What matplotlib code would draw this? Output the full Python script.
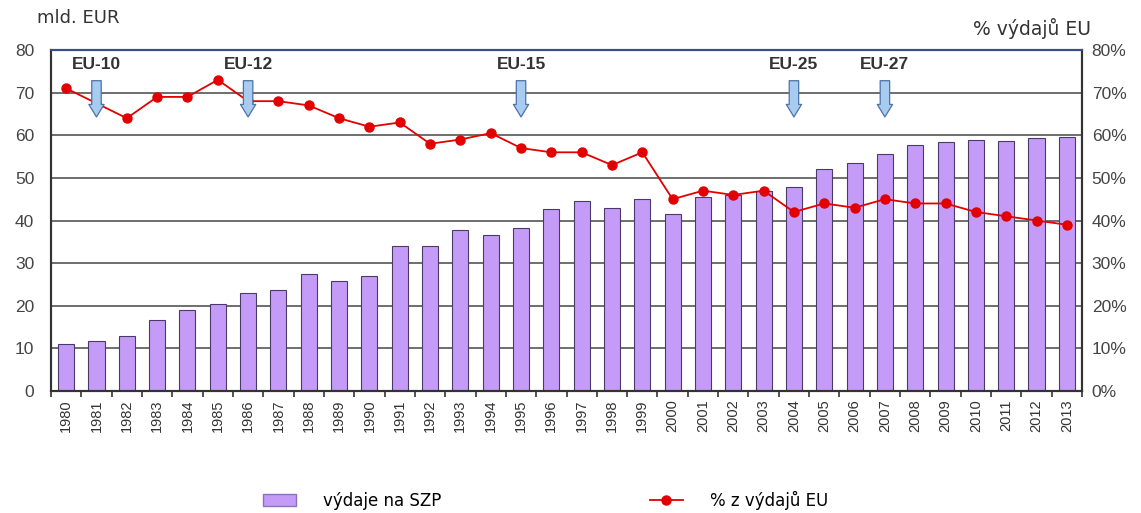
import matplotlib.pyplot as plt
import matplotlib.patches as mpatches
from matplotlib.lines import Line2D
import numpy as np

years = list(range(1980, 2014))
spending = [11.0, 11.7, 12.8, 16.6, 19.0, 20.5, 23.0, 23.7, 27.5, 25.7,
            27.0, 34.0, 34.0, 37.8, 36.6, 38.2, 42.7, 44.5, 43.0, 45.0,
            41.6, 45.5, 46.0, 47.0, 47.8, 52.0, 53.4, 55.5, 57.8, 58.5,
            58.8, 58.6, 59.3, 59.6]
share_pct = [71, 67.5, 64, 69, 69, 73, 68, 68, 67, 64,
             62, 63, 58, 59, 60.5, 57, 56, 56, 53, 56,
             45, 47, 46, 47, 42, 44, 43, 45, 44, 44,
             42, 41, 40, 39]
enlargements = ["EU-10", "EU-12", "EU-15", "EU-25", "EU-27"]
enlargement_years = [1981, 1986, 1995, 2004, 2007]

bar_color = '#c49cf7'
bar_edge = '#4a3a6a'
line_color = '#e30000'

fig = plt.figure(figsize=(11.41, 5.13), dpi=100)
ax = fig.add_axes([0.0447, 0.2378, 0.9036, 0.6647])
x = np.arange(len(years))

ax.set_ylim(0, 80)
ax.set_xlim(-0.5, len(years) - 0.5)
ax.set_yticks(range(0, 81, 10))
for v in range(10, 80, 10):
    ax.axhline(v, color='#555555', linewidth=1.2, zorder=0)

ax.bar(x, spending, width=0.53, color=bar_color, edgecolor=bar_edge,
       linewidth=0.8, zorder=2)

ax2 = ax.twinx()
ax2.set_ylim(0, 80)
ax2.plot(x, share_pct, color=line_color, linewidth=1.3, marker='o',
         markersize=6.5, zorder=3)
ax2.set_yticks(range(0, 81, 10))
ax2.set_yticklabels([f"{v}%" for v in range(0, 81, 10)])

# enlargement arrows
for name, yr in zip(enlargements, enlargement_years):
    i = years.index(yr)
    ax2.annotate('', xy=(i, 64.3), xytext=(i, 72.8),
                 arrowprops=dict(arrowstyle='simple,head_length=0.45,head_width=0.55,tail_width=0.34',
                                 fc='#a8cbf0', ec='#4d72a8', lw=0.9,
                                 shrinkA=0, shrinkB=0, mutation_scale=20),
                 zorder=5)
    ax2.text(i, 76.5, name, ha='center', va='center', fontsize=12.5,
             fontweight='bold', color='#333333', family='Liberation Sans')

ax.set_xticks(x)
ax.set_xticklabels([str(y) for y in years], rotation=90, fontsize=10.5,
                   family='Liberation Sans', color='#333333')
ax.set_xticks(np.arange(-0.5, len(years), 1), minor=True)
ax.tick_params(axis='x', which='major', length=0, pad=6)
ax.tick_params(axis='x', which='minor', length=4, width=1.2, color='#333333')
ax.tick_params(axis='y', length=0, labelsize=12.5, pad=12, labelcolor='#444444')
for lab in ax.get_yticklabels():
    lab.set_family('Liberation Sans')
ax2.tick_params(axis='y', length=0, labelsize=12.5, pad=7, labelcolor='#444444')
for lab in ax2.get_yticklabels():
    lab.set_family('Liberation Sans')

for a in (ax, ax2):
    a.spines['top'].set_color('#3a4a8a')
    a.spines['top'].set_linewidth(1.5)
    for s in ('left', 'right', 'bottom'):
        a.spines[s].set_color('#333333')
        a.spines[s].set_linewidth(1.5)

fig.text(0.032, 0.965, "mld. EUR", fontsize=13, color='#333333', va='center')
fig.text(0.956, 0.945, "% výdajů EU", fontsize=13.5, color='#333333',
         va='center', ha='right')

# legend at the bottom
handles = [mpatches.Patch(facecolor=bar_color, edgecolor='#8a70c0'),
           Line2D([], [], color=line_color, marker='o', markersize=6.5, linewidth=1.3)]
fig.legend(handles, ["výdaje na SZP", "% z výdajů EU"], loc='center',
           bbox_to_anchor=(0.478, 0.025), ncol=2, frameon=False, fontsize=12,
           columnspacing=12.5, handlelength=2.0, handletextpad=1.6)

fig.savefig('out.png', dpi=100)
